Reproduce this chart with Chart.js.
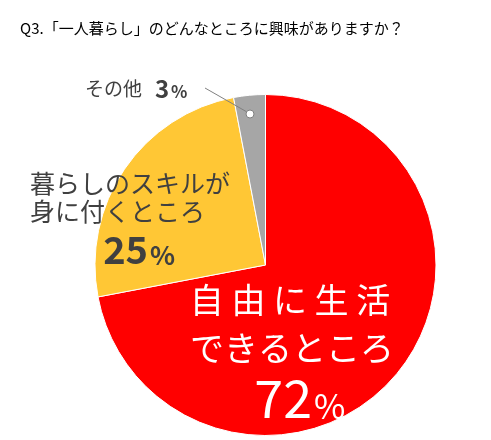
<!DOCTYPE html>
<html><head><meta charset="utf-8">
<script src="https://cdn.jsdelivr.net/npm/chart.js@4"></script>
<style>html,body{margin:0;padding:0;background:#fff}#w{position:relative;width:491px;height:440px}</style>
</head><body><div id="w"><canvas id="c" width="491" height="440"></canvas></div>
<script>
const categories = ["自由に生活できるところ", "暮らしのスキルが身に付くところ", "その他"];
const values = [72, 25, 3];
const colors = ["#ff0000", "#ffc735", "#a6a6a6"];
const titleText = "Q3.「一人暮らし」のどんなところに興味がありますか？";
const F = '"Noto Sans CJK JP", sans-serif';
const labels = {
  id: 'labels',
  afterDraw(chart) {
    const ctx = chart.ctx;
    ctx.save();
    ctx.textBaseline = 'middle';
    ctx.fillStyle = '#000'; ctx.textAlign = 'left';
    ctx.font = '15px ' + F;
    ctx.fillText(titleText, 20, 28);
    // red
    ctx.fillStyle = '#fff'; ctx.textAlign = 'center';
    ctx.font = '34px ' + F;
    ctx.fillText("自 由 に 生 活", 290, 300);
    ctx.fillText("できるところ", 292, 348);
    ctx.font = '52px ' + F;
    ctx.textAlign = 'right';
    ctx.fillText(values[0], 312, 398);
    ctx.textAlign = 'left'; ctx.font = '34px ' + F;
    ctx.fillText("%", 314, 406);
    // gold
    ctx.fillStyle = '#404040';
    ctx.font = '25px ' + F;
    ctx.fillText("暮らしのスキルが", 30, 183);
    ctx.fillText("身に付くところ", 30, 211);
    ctx.font = 'bold 38px ' + F;
    ctx.textAlign = 'right';
    ctx.fillText(values[1], 148, 250);
    ctx.textAlign = 'left'; ctx.font = 'bold 26px ' + F;
    ctx.fillText("%", 150, 255);
    // other
    ctx.font = '19px ' + F;
    ctx.fillText("その他", 85, 89);
    ctx.font = 'bold 24px ' + F;
    ctx.fillText(values[2], 155, 89);
    ctx.font = 'bold 17px ' + F;
    ctx.fillText("%", 171, 92);
    ctx.strokeStyle = '#808080'; ctx.lineWidth = 1;
    ctx.beginPath(); ctx.moveTo(205, 88); ctx.lineTo(247, 112); ctx.stroke();
    ctx.fillStyle = '#fff';
    ctx.beginPath(); ctx.arc(250, 114, 4, 0, Math.PI * 2); ctx.fill(); ctx.stroke();
    ctx.restore();
  }
};
new Chart(document.getElementById('c'), {
  type: 'pie',
  data: { labels: categories, datasets: [{ data: values, backgroundColor: colors, borderColor: '#fff', borderWidth: 1 }] },
  options: {
    responsive: false, animation: false,
    layout: { padding: { top: 94, bottom: 4, left: 94, right: 54 } },
    plugins: { legend: { display: false }, tooltip: { enabled: false } }
  },
  plugins: [labels]
});
</script></body></html>
